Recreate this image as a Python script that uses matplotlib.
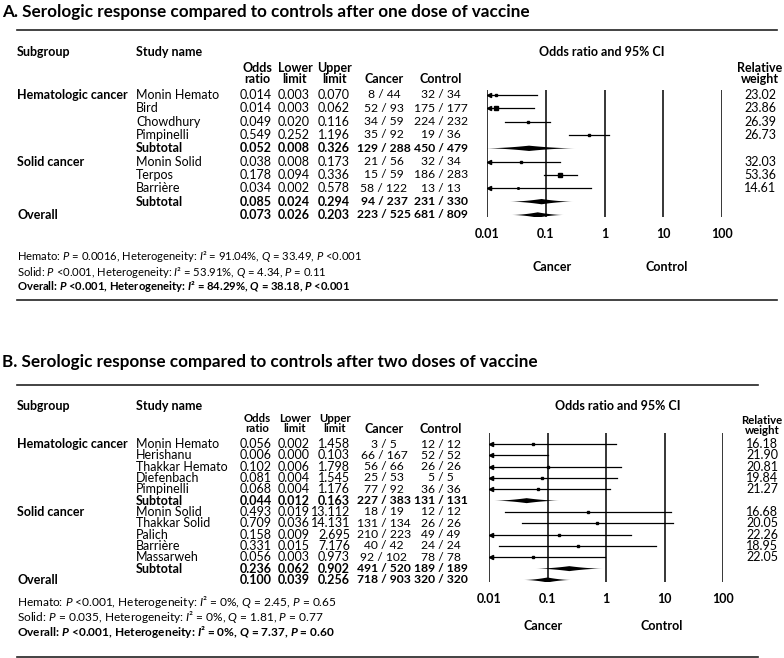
import matplotlib
matplotlib.use("Agg")
import matplotlib.pyplot as plt
import numpy as np
from matplotlib import transforms
from matplotlib.lines import Line2D
from matplotlib.patches import Polygon
from matplotlib.ticker import NullLocator

plt.rcParams['font.family'] = ['Lato', 'DejaVu Sans']
plt.rcParams['mathtext.fontset'] = 'custom'
plt.rcParams['mathtext.rm'] = 'Lato'
plt.rcParams['mathtext.it'] = 'Lato:italic'
plt.rcParams['mathtext.bf'] = 'Lato:bold'
plt.rcParams['mathtext.bfit'] = 'Lato:italic:bold'

W, H = 784, 658

# --- Panel A: one dose
a_title = "A. Serologic response compared to controls after one dose of vaccine"
a_group = ["Hematologic cancer"] * 4 + ["Solid cancer"] * 3
a_study = ["Monin Hemato", "Bird", "Chowdhury", "Pimpinelli",
           "Monin Solid", "Terpos", "Barrière"]
a_or = [0.014, 0.014, 0.049, 0.549, 0.038, 0.178, 0.034]
a_lo = [0.003, 0.003, 0.020, 0.252, 0.008, 0.094, 0.002]
a_hi = [0.070, 0.062, 0.116, 1.196, 0.173, 0.336, 0.578]
a_cancer = ["8 / 44", "52 / 93", "34 / 59", "35 / 92", "21 / 56", "15 / 59", "58 / 122"]
a_control = ["32 / 34", "175 / 177", "224 / 232", "19 / 36", "32 / 34", "186 / 283", "13 / 13"]
a_weight = [23.02, 23.86, 26.39, 26.73, 32.03, 53.36, 14.61]
a_box = [2.5, 4.5, 2.5, 2.5, 2.5, 4.0, 1.5]

a_sum_or = [0.052, 0.085, 0.073]
a_sum_lo = [0.008, 0.024, 0.026]
a_sum_hi = [0.326, 0.294, 0.203]
a_sum_cancer = ["129 / 288", "94 / 237", "223 / 525"]
a_sum_control = ["450 / 479", "231 / 330", "681 / 809"]

a_notes = [
    r"Hemato: $\mathit{P}$ = 0.0016, Heterogeneity: $\mathit{I}$² = 91.04%, $\mathit{Q}$ = 33.49, $\mathit{P}$ <0.001",
    r"Solid: $\mathit{P}$ <0.001, Heterogeneity: $\mathit{I}$² = 53.91%, $\mathit{Q}$ = 4.34, $\mathit{P}$ = 0.11",
    r"Overall: $\mathbfit{P}$ <0.001, Heterogeneity: $\mathbfit{I}$² = 84.29%, $\mathbfit{Q}$ = 38.18, $\mathbfit{P}$ <0.001",
]

# --- Panel B: two doses
b_title = "B. Serologic response compared to controls after two doses of vaccine"
b_group = ["Hematologic cancer"] * 5 + ["Solid cancer"] * 5
b_study = ["Monin Hemato", "Herishanu", "Thakkar Hemato", "Diefenbach", "Pimpinelli",
           "Monin Solid", "Thakkar Solid", "Palich", "Barrière", "Massarweh"]
b_or = [0.056, 0.006, 0.102, 0.081, 0.068, 0.493, 0.709, 0.158, 0.331, 0.056]
b_lo = [0.002, 0.000, 0.006, 0.004, 0.004, 0.019, 0.036, 0.009, 0.015, 0.003]
b_hi = [1.458, 0.103, 1.798, 1.545, 1.176, 13.112, 14.131, 2.695, 7.176, 0.973]
b_cancer = ["3 / 5", "66 / 167", "56 / 66", "25 / 53", "77 / 92",
            "18 / 19", "131 / 134", "210 / 223", "40 / 42", "92 / 102"]
b_control = ["12 / 12", "52 / 52", "26 / 26", "5 / 5", "36 / 36",
             "12 / 12", "26 / 26", "49 / 49", "24 / 24", "78 / 78"]
b_weight = [16.18, 21.90, 20.81, 19.84, 21.27, 16.68, 20.05, 22.26, 18.95, 22.05]
b_box = [2.5] * 10

b_sum_or = [0.044, 0.236, 0.100]
b_sum_lo = [0.012, 0.062, 0.039]
b_sum_hi = [0.163, 0.902, 0.256]
b_sum_cancer = ["227 / 383", "491 / 520", "718 / 903"]
b_sum_control = ["131 / 131", "189 / 189", "320 / 320"]

b_notes = [
    r"Hemato: $\mathit{P}$ <0.001, Heterogeneity: $\mathit{I}$² = 0%, $\mathit{Q}$ = 2.45, $\mathit{P}$ = 0.65",
    r"Solid: $\mathit{P}$ = 0.035, Heterogeneity: $\mathit{I}$² = 0%, $\mathit{Q}$ = 1.81, $\mathit{P}$ = 0.77",
    r"Overall: $\mathbfit{P}$ <0.001, Heterogeneity: $\mathbfit{I}$² = 0%, $\mathbfit{Q}$ = 7.37, $\mathbfit{P}$ = 0.60",
]

TICKS = [0.01, 0.1, 1, 10, 100]
FS = 9
FS_COUNT = 8.7


def fx(x):
    return x / W


def fy(y):
    return 1 - y / H


def hline(fig, y, x0, x1):
    fig.add_artist(Line2D([fx(x0), fx(x1)], [fy(y), fy(y)], color='#222222', lw=1.2,
                          transform=fig.transFigure))


def diamond(ax, y, mid, lo, hi, h):
    lo = max(lo, 0.009)
    c, l, r = np.log10(mid), np.log10(lo), np.log10(hi)
    t = np.linspace(-1, 1, 81)
    xs = np.where(t < 0, c + t * (c - l), c + t * (r - c))
    half = h * (1 - np.abs(t)) ** 1.8
    pts = np.vstack([np.column_stack([10 ** xs, y - half]),
                     np.column_stack([10 ** xs[::-1], y + half[::-1]])])
    ax.add_patch(Polygon(pts, closed=True, color='black', lw=0))


def draw_panel(fig, title, group, study, odds, lo, hi, cancer, control, weight, box,
               s_or, s_lo, s_hi, s_cancer, s_control, notes, lay):
    # title and rules
    fig.text(fx(2), fy(lay['title']), title, fontsize=12.3, fontweight='bold', va='center')
    hline(fig, lay['rule_top'], 17, lay['rule_right'])
    hline(fig, lay['rule_bot'], 17, lay['rule_right'])

    # forest axes
    l, r, t, b = lay['ax']
    row0, step = lay['row0'], lay['step']
    ax = fig.add_axes([fx(l), fy(b), (r - l) / W, (b - t) / H])
    ax.set_xscale('log')
    ax.set_xlim(0.01, 100)
    ax.set_ylim((b - row0) / step, (t - row0) / step)
    for s in ax.spines.values():
        s.set_visible(False)
    ax.set_yticks([])
    ax.set_xticks(TICKS, ['0.01', '0.1', '1', '10', '100'])
    ax.xaxis.set_minor_locator(NullLocator())
    ax.tick_params(axis='x', length=0, pad=lay['tick_pad'], labelsize=FS)
    for lab in ax.get_xticklabels():
        lab.set_fontweight('bold')
    for v in TICKS:
        ax.axvline(v, color='black', lw=1.1, zorder=1)
    ax.patch.set_alpha(0)

    tr = transforms.blended_transform_factory(fig.transFigure, ax.transData)

    def row_text(y, x, s, ha='left', bold=False, size=FS):
        fig.text(fx(x), y, s, transform=tr, ha=ha, va='center', fontsize=size,
                 fontweight='bold' if bold else 'normal')

    # headers
    hfs = lay['hdr_fs']
    hy1, hy2 = lay['hdr']
    fig.text(fx(17), fy(lay['sub_y']), "Subgroup", fontsize=FS, fontweight='bold', va='center')
    fig.text(fx(136), fy(lay['sub_y']), "Study name", fontsize=FS, fontweight='bold', va='center')
    for x, a, c in [(257, "Odds", "ratio"), (295, "Lower", "limit"), (335, "Upper", "limit")]:
        fig.text(fx(x), fy(hy1), a, ha='center', va='center', fontsize=hfs, fontweight='bold')
        fig.text(fx(x), fy(hy2), c, ha='center', va='center', fontsize=hfs, fontweight='bold')
    fig.text(fx(384), fy(hy2), "Cancer", ha='center', va='center', fontsize=FS, fontweight='bold')
    fig.text(fx(441), fy(hy2), "Control", ha='center', va='center', fontsize=FS, fontweight='bold')
    fig.text(fx(lay['ci_x']), fy(lay['sub_y']), "Odds ratio and 95% CI", ha='center',
             va='center', fontsize=FS, fontweight='bold')
    wy1, wy2 = lay['wt_hdr']
    fig.text(fx(lay['wt_x']), fy(wy1), "Relative", ha='center', va='center', fontsize=hfs, fontweight='bold')
    fig.text(fx(lay['wt_x']), fy(wy2), "weight", ha='center', va='center', fontsize=hfs, fontweight='bold')

    def num_cols(y, o, lw_, up, ca, co, bold):
        row_text(y, 272, f"{o:.3f}", 'right', bold)
        row_text(y, 310, f"{lw_:.3f}", 'right', bold)
        row_text(y, 350, f"{up:.3f}", 'right', bold)
        row_text(y, 384, ca, 'center', bold, FS_COUNT)
        row_text(y, 441, co, 'center', bold, FS_COUNT)

    # rows
    y = 0
    groups = list(dict.fromkeys(group))
    for k, g in enumerate(groups):
        idx = [i for i, gg in enumerate(group) if gg == g]
        row_text(y, 17, g, bold=True)
        for i in idx:
            row_text(y, 136, study[i])
            num_cols(y, odds[i], lo[i], hi[i], cancer[i], control[i], False)
            row_text(y, lay['wt_x'], f"{weight[i]:.2f}", 'center')
            x0 = max(lo[i], 0.01)
            ax.plot([x0, hi[i]], [y, y], color='black', lw=0.9, zorder=2)
            if lo[i] < 0.01:
                ax.plot([0.0108], [y], marker='<', ms=3, color='black', clip_on=False, zorder=3)
            ax.plot([odds[i]], [y], marker='s', ms=box[i] * 0.72, color='black', zorder=3)
            y += 1
        row_text(y, 136, "Subtotal", bold=True)
        num_cols(y, s_or[k], s_lo[k], s_hi[k], s_cancer[k], s_control[k], True)
        diamond(ax, y, s_or[k], s_lo[k], s_hi[k], lay['dh'])
        y += 1
    row_text(y, 17, "Overall", bold=True)
    num_cols(y, s_or[-1], s_lo[-1], s_hi[-1], s_cancer[-1], s_control[-1], True)
    diamond(ax, y, s_or[-1], s_lo[-1], s_hi[-1], lay['dh'])

    # favours labels
    cx, kx, ly = lay['fav']
    fig.text(fx(cx), fy(ly), "Cancer", ha='center', va='center', fontsize=FS, fontweight='bold')
    fig.text(fx(kx), fy(ly), "Control", ha='center', va='center', fontsize=FS, fontweight='bold')

    # notes
    for s, ny in zip(notes, lay['notes']):
        bold = s.startswith("Overall")
        fig.text(fx(17), fy(ny), s, va='center', fontsize=lay['note_fs'],
                 fontweight='bold' if bold else 'normal')


def main():
    fig = plt.figure(figsize=(W / 100, H / 100), dpi=100)
    lay_a = dict(title=12, rule_top=30, rule_bot=300, rule_right=777,
                 ax=(487, 722, 90, 217), row0=95, step=13.33, tick_pad=8,
                 hdr=(67.5, 79), hdr_fs=FS, sub_y=52, ci_x=602, wt_x=760, wt_hdr=(67.5, 79),
                 dh=0.2, fav=(552, 667, 267), notes=(257, 272, 287), note_fs=8.1)
    lay_b = dict(title=362, rule_top=385, rule_bot=657, rule_right=758,
                 ax=(489, 723, 433, 582), row0=444, step=11.33, tick_pad=8,
                 hdr=(418.5, 429), hdr_fs=8.2, sub_y=406, ci_x=618, wt_x=762, wt_hdr=(420.5, 431),
                 dh=0.22, fav=(543, 662, 626), notes=(602.5, 617, 631.5), note_fs=8.6)
    draw_panel(fig, a_title, a_group, a_study, a_or, a_lo, a_hi, a_cancer, a_control,
               a_weight, a_box, a_sum_or, a_sum_lo, a_sum_hi, a_sum_cancer, a_sum_control,
               a_notes, lay_a)
    draw_panel(fig, b_title, b_group, b_study, b_or, b_lo, b_hi, b_cancer, b_control,
               b_weight, b_box, b_sum_or, b_sum_lo, b_sum_hi, b_sum_cancer, b_sum_control,
               b_notes, lay_b)
    fig.savefig("out.png", dpi=100)


if __name__ == "__main__":
    main()
